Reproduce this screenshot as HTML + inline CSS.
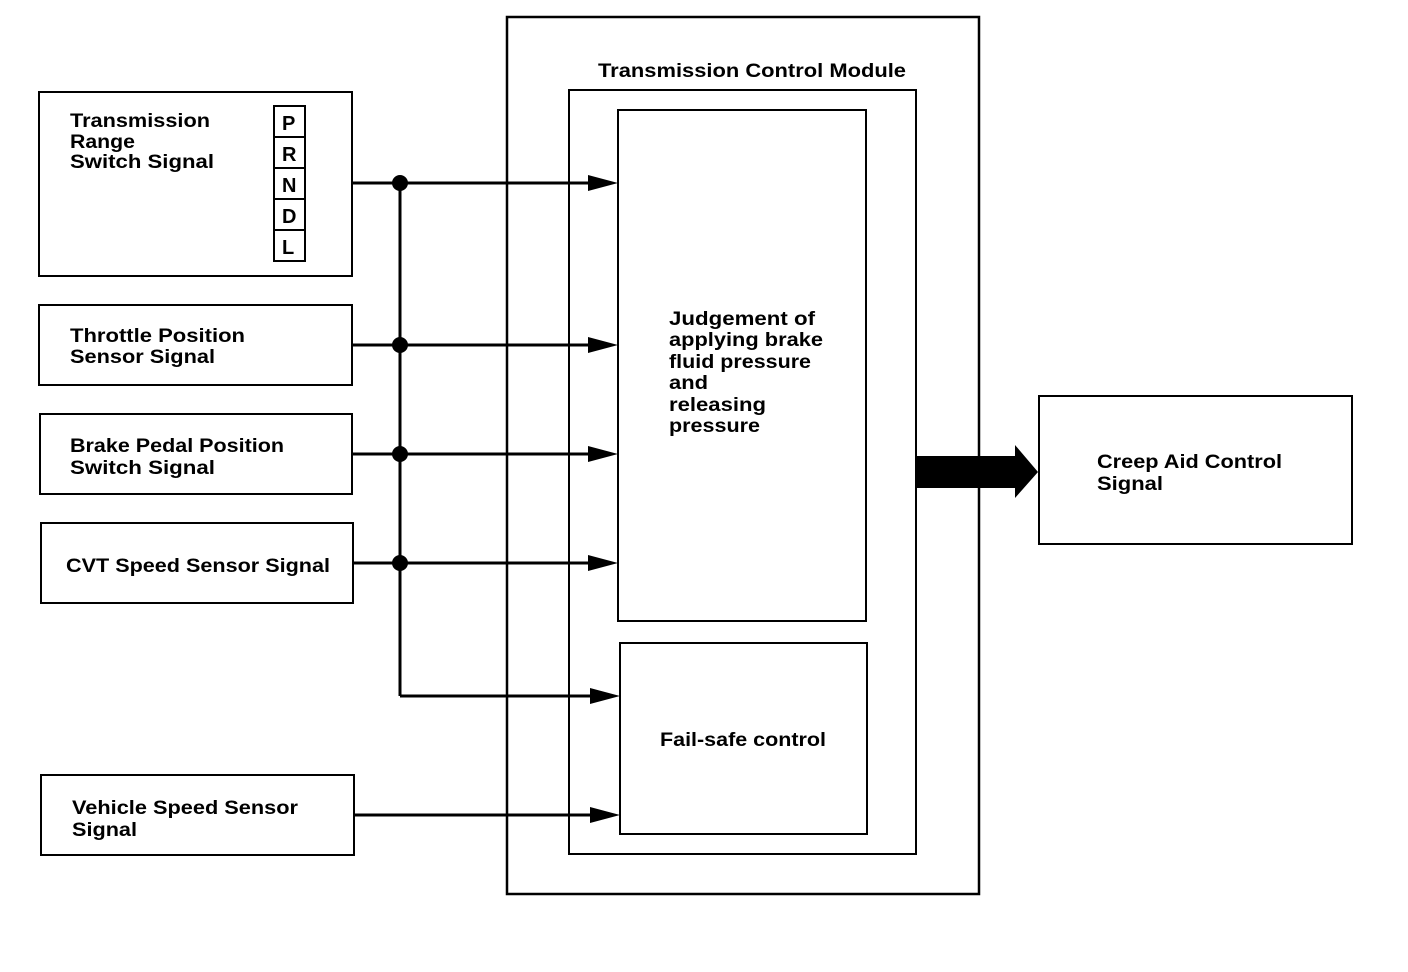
<!DOCTYPE html>
<html><head><meta charset="utf-8"><style>html,body{margin:0;padding:0;background:#fff}svg{display:block}</style></head>
<body>
<svg width="1408" height="972" viewBox="0 0 1408 972" xmlns="http://www.w3.org/2000/svg">
<g fill="none" stroke="#000" stroke-width="2">
<rect x="39" y="92" width="313" height="184"/>
<rect x="39" y="305" width="313" height="80"/>
<rect x="40" y="414" width="312" height="80"/>
<rect x="41" y="523" width="312" height="80"/>
<rect x="41" y="775" width="313" height="80"/>
<rect x="507" y="17" width="472" height="877" stroke-width="2.5"/>
<rect x="569" y="90" width="347" height="764"/>
<rect x="618" y="110" width="248" height="511"/>
<rect x="620" y="643" width="247" height="191"/>
<rect x="1039" y="396" width="313" height="148"/>
<rect x="274" y="106" width="31" height="155"/>
<line x1="274" y1="137" x2="305" y2="137"/>
<line x1="274" y1="168" x2="305" y2="168"/>
<line x1="274" y1="199" x2="305" y2="199"/>
<line x1="274" y1="230" x2="305" y2="230"/>
</g>
<g stroke="#000" stroke-width="3" fill="none">
<line x1="352" y1="183" x2="592" y2="183"/>
<line x1="352" y1="345" x2="592" y2="345"/>
<line x1="352" y1="454" x2="592" y2="454"/>
<line x1="353" y1="563" x2="592" y2="563"/>
<line x1="400" y1="696" x2="594" y2="696"/>
<line x1="354" y1="815" x2="594" y2="815"/>
<line x1="400" y1="183" x2="400" y2="696"/>
</g>
<g fill="#000">
<circle cx="400" cy="183" r="8"/><circle cx="400" cy="345" r="8"/><circle cx="400" cy="454" r="8"/><circle cx="400" cy="563" r="8"/>
<polygon points="588,175 618,183 588,191"/>
<polygon points="588,337 618,345 588,353"/>
<polygon points="588,446 618,454 588,462"/>
<polygon points="588,555 618,563 588,571"/>
<polygon points="590,688 620,696 590,704"/>
<polygon points="590,807 620,815 590,823"/>
<polygon points="917,456 1015,456 1015,445 1038,472 1015,498 1015,488 917,488"/>
</g>
<g font-family="Liberation Sans, sans-serif" font-weight="bold" font-size="19" fill="#000" lengthAdjust="spacingAndGlyphs">
<text x="282" y="130" font-size="20">P</text>
<text x="282" y="161" font-size="20">R</text>
<text x="282" y="192" font-size="20">N</text>
<text x="282" y="223" font-size="20">D</text>
<text x="282" y="254" font-size="20">L</text>
<text x="70" y="127" textLength="140" lengthAdjust="spacingAndGlyphs">Transmission</text>
<text x="70" y="148" textLength="65" lengthAdjust="spacingAndGlyphs">Range</text>
<text x="70" y="168" textLength="144" lengthAdjust="spacingAndGlyphs">Switch Signal</text>
<text x="70" y="342" textLength="175" lengthAdjust="spacingAndGlyphs">Throttle Position</text>
<text x="70" y="363" textLength="145" lengthAdjust="spacingAndGlyphs">Sensor Signal</text>
<text x="70" y="452" textLength="214" lengthAdjust="spacingAndGlyphs">Brake Pedal Position</text>
<text x="70" y="474" textLength="145" lengthAdjust="spacingAndGlyphs">Switch Signal</text>
<text x="66" y="572" textLength="264" lengthAdjust="spacingAndGlyphs">CVT Speed Sensor Signal</text>
<text x="72" y="814" textLength="226" lengthAdjust="spacingAndGlyphs">Vehicle Speed Sensor</text>
<text x="72" y="836" textLength="65" lengthAdjust="spacingAndGlyphs">Signal</text>
<text x="598" y="77" textLength="308" lengthAdjust="spacingAndGlyphs">Transmission Control Module</text>
<text x="669" y="325" textLength="146" lengthAdjust="spacingAndGlyphs">Judgement of</text>
<text x="669" y="346" textLength="154" lengthAdjust="spacingAndGlyphs">applying brake</text>
<text x="669" y="368" textLength="142" lengthAdjust="spacingAndGlyphs">fluid pressure</text>
<text x="669" y="389" textLength="39" lengthAdjust="spacingAndGlyphs">and</text>
<text x="669" y="411" textLength="97" lengthAdjust="spacingAndGlyphs">releasing</text>
<text x="669" y="432" textLength="91" lengthAdjust="spacingAndGlyphs">pressure</text>
<text x="660" y="746" textLength="166" lengthAdjust="spacingAndGlyphs">Fail-safe control</text>
<text x="1097" y="468" textLength="185" lengthAdjust="spacingAndGlyphs">Creep Aid Control</text>
<text x="1097" y="490" textLength="66" lengthAdjust="spacingAndGlyphs">Signal</text>
</g>
</svg>
</body></html>
